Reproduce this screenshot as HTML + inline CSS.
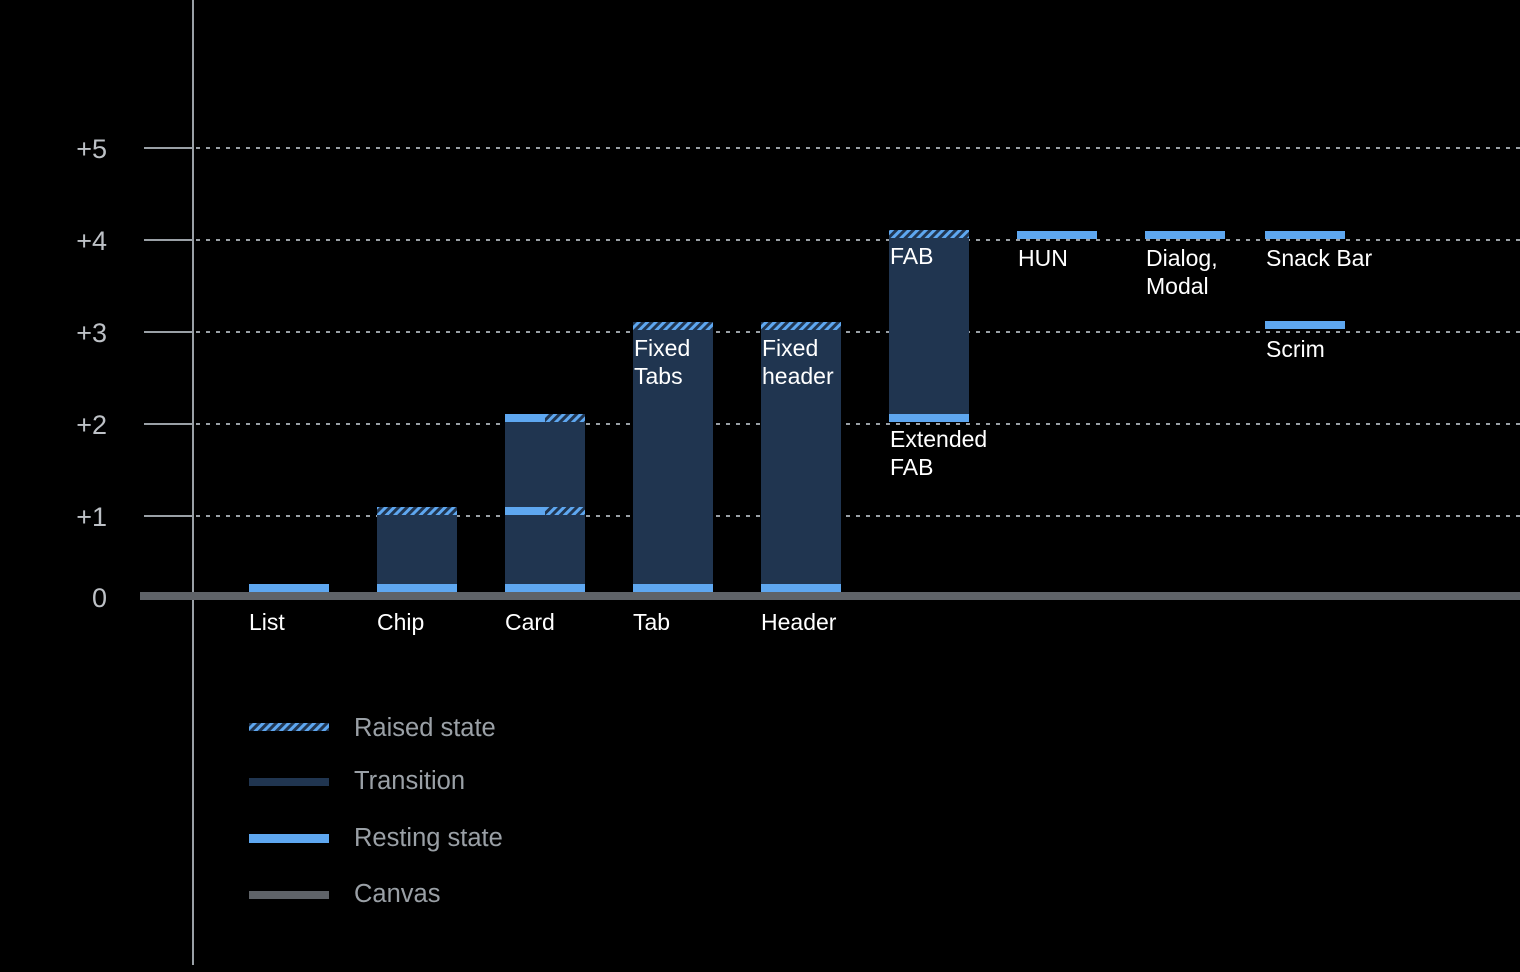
<!DOCTYPE html>
<html><head><meta charset="utf-8"><style>
html,body{margin:0;padding:0;background:#000;}
svg{display:block;}
.ax{font-family:"Liberation Sans",sans-serif;font-size:27px;fill:#bdc1c6;}
.lb{font-family:"Liberation Sans",sans-serif;font-size:23px;fill:#fff;}
.lg{font-family:"Liberation Sans",sans-serif;font-size:25.5px;fill:#9aa0a6;}
</style></head><body>
<svg width="1520" height="972" viewBox="0 0 1520 972" xmlns="http://www.w3.org/2000/svg">
<defs>
<pattern id="h" width="6" height="6" patternUnits="userSpaceOnUse" patternTransform="rotate(45)">
<rect width="6" height="6" fill="#203550"/>
<rect width="3" height="6" fill="#5ea7f0"/>
</pattern>
</defs>
<rect width="1520" height="972" fill="#000"/>
<g stroke="#9aa0a6" stroke-width="2">
<line x1="144" y1="148" x2="193" y2="148"/>
<line x1="144" y1="240" x2="193" y2="240"/>
<line x1="144" y1="332" x2="193" y2="332"/>
<line x1="144" y1="424" x2="193" y2="424"/>
<line x1="144" y1="516" x2="193" y2="516"/>
</g>
<g stroke="#9aa0a6" stroke-width="2" stroke-dasharray="4 6">
<line x1="196" y1="148" x2="1520" y2="148"/>
<line x1="196" y1="240" x2="1520" y2="240"/>
<line x1="196" y1="332" x2="1520" y2="332"/>
<line x1="196" y1="424" x2="1520" y2="424"/>
<line x1="196" y1="516" x2="1520" y2="516"/>
</g>
<line x1="193" y1="0" x2="193" y2="965" stroke="#9aa0a6" stroke-width="2"/>
<text class="ax" x="107" y="158" text-anchor="end">+5</text>
<text class="ax" x="107" y="250" text-anchor="end">+4</text>
<text class="ax" x="107" y="342" text-anchor="end">+3</text>
<text class="ax" x="107" y="434" text-anchor="end">+2</text>
<text class="ax" x="107" y="526" text-anchor="end">+1</text>
<text class="ax" x="107" y="607" text-anchor="end">0</text>
<rect x="249" y="584" width="80" height="8" fill="#5ea7f0"/>
<rect x="377" y="507" width="80" height="85" fill="#203550"/>
<rect x="377" y="507" width="80" height="8" fill="url(#h)"/>
<rect x="377" y="584" width="80" height="8" fill="#5ea7f0"/>
<rect x="505" y="414" width="80" height="178" fill="#203550"/>
<rect x="505" y="414" width="40" height="8" fill="#5ea7f0"/>
<rect x="545" y="414" width="40" height="8" fill="url(#h)"/>
<rect x="505" y="507" width="40" height="8" fill="#5ea7f0"/>
<rect x="545" y="507" width="40" height="8" fill="url(#h)"/>
<rect x="505" y="584" width="80" height="8" fill="#5ea7f0"/>
<rect x="633" y="322" width="80" height="270" fill="#203550"/>
<rect x="633" y="322" width="80" height="8" fill="url(#h)"/>
<rect x="633" y="584" width="80" height="8" fill="#5ea7f0"/>
<rect x="761" y="322" width="80" height="270" fill="#203550"/>
<rect x="761" y="322" width="80" height="8" fill="url(#h)"/>
<rect x="761" y="584" width="80" height="8" fill="#5ea7f0"/>
<rect x="889" y="230" width="80" height="192" fill="#203550"/>
<rect x="889" y="230" width="80" height="8" fill="url(#h)"/>
<rect x="889" y="414" width="80" height="8" fill="#5ea7f0"/>
<rect x="1017" y="231" width="80" height="8" fill="#5ea7f0"/>
<rect x="1145" y="231" width="80" height="8" fill="#5ea7f0"/>
<rect x="1265" y="231" width="80" height="8" fill="#5ea7f0"/>
<rect x="1265" y="321" width="80" height="8" fill="#5ea7f0"/>
<rect x="140" y="592" width="1380" height="8" fill="#5f6368"/>
<text class="lb" x="249" y="630">List</text>
<text class="lb" x="377" y="630">Chip</text>
<text class="lb" x="505" y="630">Card</text>
<text class="lb" x="633" y="630">Tab</text>
<text class="lb" x="761" y="630">Header</text>
<text class="lb" x="634" y="356">Fixed</text>
<text class="lb" x="634" y="384">Tabs</text>
<text class="lb" x="762" y="356">Fixed</text>
<text class="lb" x="762" y="384">header</text>
<text class="lb" x="890" y="264">FAB</text>
<text class="lb" x="890" y="447">Extended</text>
<text class="lb" x="890" y="475">FAB</text>
<text class="lb" x="1018" y="266">HUN</text>
<text class="lb" x="1146" y="266">Dialog,</text>
<text class="lb" x="1146" y="294">Modal</text>
<text class="lb" x="1266" y="266">Snack Bar</text>
<text class="lb" x="1266" y="357">Scrim</text>
<rect x="249" y="723" width="80" height="8" fill="url(#h)"/>
<rect x="249" y="778" width="80" height="8" fill="#203550"/>
<rect x="249" y="834" width="80" height="9" fill="#5ea7f0"/>
<rect x="249" y="891" width="80" height="8" fill="#5f6368"/>
<text class="lg" x="354" y="736">Raised state</text>
<text class="lg" x="354" y="789">Transition</text>
<text class="lg" x="354" y="846">Resting state</text>
<text class="lg" x="354" y="902">Canvas</text>
</svg>
</body></html>
